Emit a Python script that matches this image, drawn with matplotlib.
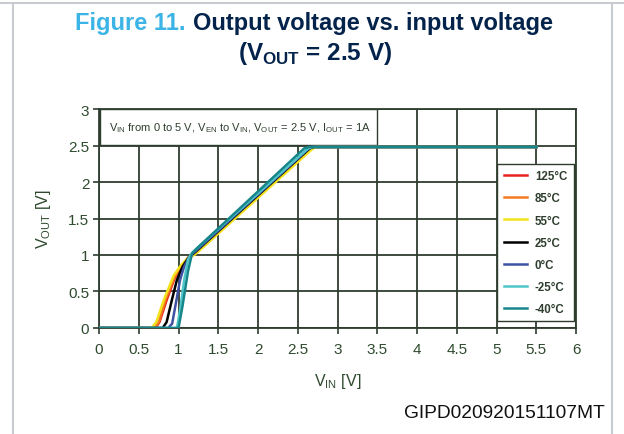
import matplotlib
matplotlib.use("Agg")
from matplotlib import pyplot as plt
from matplotlib.lines import Line2D
from matplotlib.patches import Rectangle

plt.rcParams['font.family'] = ['Liberation Sans', 'DejaVu Sans']

# Data (V_IN, V_OUT)
labels = ["125°C", "85°C", "55°C", "25°C", "0°C", "-25°C", "-40°C"]
colors = ["#e8231e", "#f47a20", "#f2e21c", "#000000", "#3f51a3", "#4fc6c8", "#17868a"]

vin_125 = [0, 0.71, 0.76, 0.85, 0.95, 1.03, 1.12, 1.20, 2.66, 2.71, 5.5]
vout_125 = [0, 0, 0.08, 0.38, 0.68, 0.84, 0.96, 1.01, 2.45, 2.48, 2.48]
vin_85 = [0, 0.70, 0.75, 0.84, 0.95, 1.03, 1.12, 1.20, 2.67, 2.72, 5.5]
vout_85 = [0, 0, 0.08, 0.40, 0.70, 0.84, 0.96, 1.01, 2.45, 2.48, 2.48]
vin_55 = [0, 0.66, 0.72, 0.82, 0.94, 1.03, 1.12, 1.21, 2.68, 2.73, 5.5]
vout_55 = [0, 0, 0.08, 0.40, 0.72, 0.86, 0.96, 1.01, 2.45, 2.48, 2.48]
vin_25 = [0, 0.80, 0.85, 0.92, 0.98, 1.05, 1.13, 1.20, 2.65, 2.70, 5.5]
vout_25 = [0, 0, 0.08, 0.40, 0.66, 0.84, 0.97, 1.03, 2.46, 2.48, 2.48]
vin_0 = [0, 0.87, 0.92, 0.97, 1.02, 1.07, 1.14, 1.20, 2.64, 2.69, 5.5]
vout_0 = [0, 0, 0.06, 0.36, 0.66, 0.84, 0.98, 1.04, 2.46, 2.48, 2.48]
vin_m25 = [0, 0.98, 1.02, 1.07, 1.12, 1.17, 1.22, 2.63, 2.68, 5.5]
vout_m25 = [0, 0, 0.25, 0.65, 0.94, 1.03, 1.08, 2.46, 2.48, 2.48]
vin_m40 = [0, 1.00, 1.05, 1.12, 1.17, 1.22, 2.58, 2.64, 5.5]
vout_m40 = [0, 0, 0.30, 0.78, 1.02, 1.08, 2.46, 2.48, 2.48]

vin_sets = [vin_125, vin_85, vin_55, vin_25, vin_0, vin_m25, vin_m40]
vout_sets = [vout_125, vout_85, vout_55, vout_25, vout_0, vout_m25, vout_m40]

x_ticks = [0, 0.5, 1, 1.5, 2, 2.5, 3, 3.5, 4, 4.5, 5, 5.5, 6]
y_ticks = [0, 0.5, 1, 1.5, 2, 2.5, 3]

GRID = "#2e3d2e"
TICK_TXT = "#2f4a2f"
NAVY = "#03234b"

fig = plt.figure(figsize=(6.24, 4.35), dpi=100)

# page frame
fig.add_artist(Line2D([0.021, 0.021], [0, 0.991], color="#c8ccd0", lw=1.5))
fig.add_artist(Line2D([0.981, 0.981], [0, 0.991], color="#c8ccd0", lw=1.5))
fig.add_artist(Line2D([0, 1], [0.991, 0.991], color="#c8ccd0", lw=1.5))

# title
fig.text(0.2965, 0.947, "Figure 11.", color="#3cb4e5", fontsize=17,
         fontweight="bold", ha="right", va="center")
fig.text(0.309, 0.947, "Output voltage vs. input voltage", color=NAVY,
         fontsize=17, fontweight="bold", ha="left", va="center")
fig.text(0.505, 0.877, r"(V$_{\mathregular{OUT}}$ = 2.5 V)", color=NAVY,
         fontsize=17.5, fontweight="bold", ha="center", va="center")

ax = fig.add_axes([0.1587, 0.2437, 0.7644, 0.5034])

for xs, ys, c, lab in zip(vin_sets, vout_sets, colors, labels):
    ax.plot(xs, ys, color=c, lw=1.8, label=lab, zorder=3, solid_joinstyle="round")

ax.set_xlim(0, 6)
ax.set_ylim(0, 3)
ax.set_xticks(x_ticks)
ax.set_xticklabels([f"{v:g}" for v in x_ticks])
ax.set_yticks(y_ticks)
ax.set_yticklabels([f"{v:g}" for v in y_ticks])
ax.grid(True, color=GRID, lw=1.3, zorder=1)
ax.set_axisbelow(True)
for s in ax.spines.values():
    s.set_color(GRID)
    s.set_linewidth(1.3)
ax.tick_params(colors=GRID, labelcolor=TICK_TXT, labelsize=11, length=4, width=1.2)
ax.tick_params(axis="y", pad=3)
ax.tick_params(axis="x", pad=6)

ax.set_xlabel(r"V$_{\mathregular{IN}}$ [V]", fontsize=11.5, color=TICK_TXT, labelpad=11)
ax.set_ylabel(r"V$_{\mathregular{OUT}}$ [V]", fontsize=11.5, color=TICK_TXT, labelpad=11)

# condition box
ax.add_patch(Rectangle((0.002, 0.836), 0.581, 0.164, transform=ax.transAxes,
                       facecolor="white", edgecolor=GRID, lw=1.0, zorder=2))
ax.text(0.02, 0.918,
        r"V$_{\mathregular{IN}}$ from 0 to 5 V, V$_{\mathregular{EN}}$ to V$_{\mathregular{IN}}$, "
        r"V$_{\mathregular{OUT}}$ = 2.5 V, I$_{\mathregular{OUT}}$ = 1A",
        transform=ax.transAxes, fontsize=8.0, color=GRID, va="center", ha="left", zorder=4)

leg = ax.legend(loc="lower right", bbox_to_anchor=(0.995, 0.03),
                prop={"weight": "bold", "size": 8.3}, frameon=True, fancybox=False,
                handlelength=2.0, labelspacing=0.88, borderpad=0.55, handletextpad=0.7,
                borderaxespad=0)
leg.get_frame().set_edgecolor(GRID)
leg.get_frame().set_linewidth(1.0)
leg.get_frame().set_alpha(1)
for t in leg.get_texts():
    t.set_color(GRID)

fig.text(0.97, 0.05, "GIPD020920151107MT", fontsize=13.8, color="#111111",
         ha="right", va="center")

fig.savefig("out.png", dpi=100)
